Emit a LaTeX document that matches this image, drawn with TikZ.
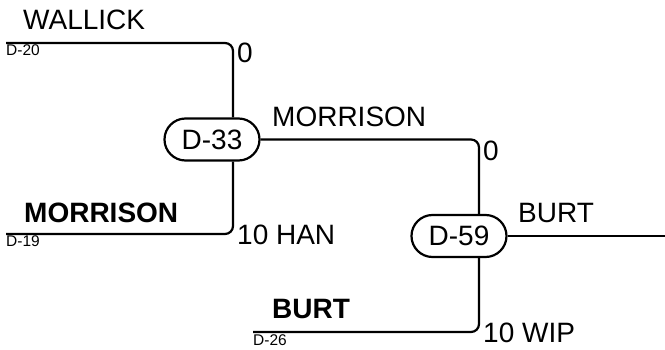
\documentclass[tikz,border=0pt]{standalone}
\usepackage{fontspec}
\setmainfont{Liberation Sans}
\tikzset{
  px/.style={x=1pt,y=-1pt},
  wire/.style={line width=2.2pt,rounded corners=8pt},
  dnode/.style={draw,line width=2.2pt,rounded corners=21pt,minimum width=95pt,minimum height=42pt,inner sep=0pt,font=\fontsize{28}{33}\selectfont},
  lab/.style={inner sep=0pt,anchor=base west,font=\fontsize{28}{33}\selectfont},
  blab/.style={inner sep=0pt,anchor=base west,font=\fontsize{28}{33}\selectfont\bfseries},
  slab/.style={inner sep=0pt,anchor=base west,font=\fontsize{15.5}{18}\selectfont},
}
\begin{document}
\begin{tikzpicture}[px]
\useasboundingbox (0,0) rectangle (665,350);
% match nodes
\node[dnode] (n33) at (212,139.5) {D-33};
\node[dnode] (n59) at (459,236) {D-59};
% line end points
\coordinate (wallick) at (6,43);
\coordinate (morr) at (6,234);
\coordinate (burt) at (253,332);
\coordinate (out) at (665,236);
% connectors
\draw[wire] (wallick) -| ([xshift=21pt]n33.north);
\draw[wire] (morr) -| ([xshift=21pt]n33.south);
\draw[wire] (n33.east) -| ([xshift=20pt]n59.north);
\draw[wire] (burt) -| ([xshift=20pt]n59.south);
\draw[wire] (n59.east) -- (out);
% labels
\node[lab] (lwallick) at (23,30) {WALLICK};
\node[slab] (d20) at (6,56) {D-20};
\node[lab] (s1) at (237,63) {0};
\node[blab] (lmorr) at (24,223) {MORRISON};
\node[slab] (d19) at (6,247) {D-19};
\node[lab] (s2) at (237,245) {10 HAN};
\node[lab] (lmorr2) at (272,127) {MORRISON};
\node[lab] (s3) at (483,161) {0};
\node[lab] (lburt2) at (518,223) {BURT};
\node[blab] (lburt) at (272,319) {BURT};
\node[slab] (d26) at (253,345) {D-26};
\node[lab] (s4) at (483,342) {10 WIP};
\end{tikzpicture}
\end{document}
